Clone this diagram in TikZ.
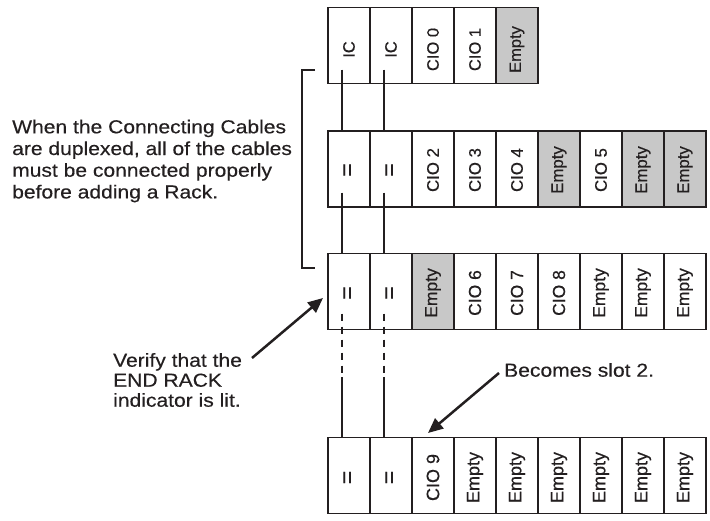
\documentclass[tikz,border=0pt]{standalone}
\usepackage{graphicx}
\usepackage{fontspec}
\setmainfont[FakeBold=0.35]{Liberation Sans}
\newfontfamily\widefont[FakeStretch=1.12,FakeBold=0.35]{Liberation Sans}
\usetikzlibrary{arrows.meta}
\definecolor{emptygray}{RGB}{200,200,200}
\definecolor{ink}{RGB}{35,31,32}
\newcommand\eqsign{{\fontsize{23}{23}\selectfont =}}
% #1 name, #2 centre y, #3 font size, #4 label shift (down), #5 list
\newcommand\drawrack[5]{%
  \foreach [count=\i] \lab/\fil in {#5} {
    \node[slot, fill=\fil] (#1s\i) at ({349+42*(\i-1)}, #2) {};
    \node[slotlabel, font=\fontsize{#3}{#3}\selectfont] (#1l\i) at ([yshift=-#4pt]#1s\i.center) {\rotatebox{90}{\lab}};
  }}
\begin{document}
\begin{tikzpicture}[x=1pt,y=-1pt,
  slot/.style={draw=ink, line width=1.2pt, minimum width=42pt, minimum height=76pt, inner sep=0pt},
  slotlabel/.style={inner sep=0pt, text=ink},
  cable/.style={draw=ink, line width=1.1pt},
  dashcable/.style={draw=ink, line width=1.9pt, dash pattern=on 7pt off 6pt},
  bigarrow/.style={draw=ink, line width=2.5pt, -{Triangle[length=15pt,width=13pt]}},
  note/.style={inner sep=0pt, align=left, text=ink},
]
\useasboundingbox (0,0) rectangle (710,521);

\drawrack{r1}{45.5}{16.5}{4}{IC/white, IC/white, CIO 0/white, CIO 1/white, Empty/emptygray}
\drawrack{r2}{169}{16.8}{1}{\eqsign/white, \eqsign/white, CIO 2/white, CIO 3/white, CIO 4/white, Empty/emptygray, CIO 5/white, Empty/emptygray, Empty/emptygray}
\drawrack{r3}{291.5}{17.5}{1.5}{\eqsign/white, \eqsign/white, Empty/emptygray, CIO 6/white, CIO 7/white, CIO 8/white, Empty/white, Empty/white, Empty/white}
\drawrack{r4}{475.5}{18}{2}{\eqsign/white, \eqsign/white, CIO 9/white, Empty/white, Empty/white, Empty/white, Empty/white, Empty/white, Empty/white}

% cables
\foreach \k in {1,2} {
  \coordinate (a\k) at ([xshift=-7pt,yshift=14.5pt]r1s\k.south);
  \draw[cable] (a\k) -- (a\k |- r2s\k.north);
  \coordinate (b\k) at ([xshift=-7pt,yshift=15pt]r2s\k.south);
  \draw[cable] (b\k) -- (b\k |- r3s\k.north);
  \coordinate (c\k) at ([xshift=-7pt,yshift=16.5pt]r3s\k.south);
  \coordinate (j\k) at (c\k |- 0,377);
  \draw[dashcable] (c\k) -- (j\k);
  \draw[cable] (j\k) -- (j\k |- r4s\k.north);
}

% bracket
\draw[cable] (315,70) -- (302,70) -- (302,268) -- (315,268);

% notes
\node[note, anchor=west, font=\widefont\fontsize{18.8}{21.7}\selectfont] (dup) at (12,161)
  {When the Connecting Cables\\are duplexed, all of the cables\\must be connected properly\\before adding a Rack.};
\node[note, anchor=west, font=\widefont\fontsize{18.8}{20}\selectfont] (verify) at (113,380)
  {Verify that the\\END RACK\\indicator is lit.};
\node[note, anchor=base west, font=\widefont\fontsize{18.8}{20}\selectfont] (becomes) at (504,376.7)
  {Becomes slot 2.};

% arrows
\coordinate (vtail) at (252,358);
\coordinate (vtip) at (323,298);
\draw[bigarrow] (vtail) -- (vtip);
\coordinate (btail) at (499,373);
\coordinate (btip) at (428,433);
\draw[bigarrow] (btail) -- (btip);
\end{tikzpicture}
\end{document}
